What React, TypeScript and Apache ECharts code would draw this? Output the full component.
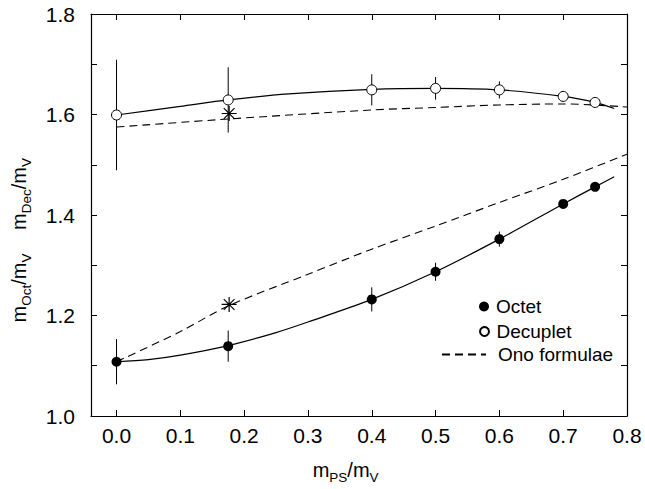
import React, { useEffect, useRef } from "react";
import * as echarts from "echarts";

// Lattice data (x = mPS/mV)
const pointX = [0, 0.175, 0.4, 0.5, 0.6, 0.7, 0.75];
const octetY = [1.108, 1.139, 1.232, 1.287, 1.352, 1.422, 1.456];
const octetErr = [0.045, 0.031, 0.024, 0.018, 0.015, 0.008, 0.006];
const decupletY = [1.599, 1.629, 1.649, 1.652, 1.649, 1.636, 1.624];
const decupletErr = [0.11, 0.065, 0.031, 0.0225, 0.017, 0.011, 0.008];

// Fit curves
const octFitX = [0, 0.05, 0.1, 0.175, 0.25, 0.3, 0.4, 0.5, 0.6, 0.7, 0.75, 0.78];
const octFitY = [1.108, 1.112, 1.121, 1.14, 1.166, 1.187, 1.232, 1.287, 1.352, 1.422, 1.456, 1.476];
const decFitX = [0, 0.1, 0.175, 0.27, 0.4, 0.5, 0.6, 0.7, 0.75, 0.78];
const decFitY = [1.599, 1.616, 1.629, 1.641, 1.65, 1.652, 1.649, 1.636, 1.624, 1.612];

// Ono formulae (dashed)
const onoOctX = [0, 0.1, 0.175, 0.3, 0.4, 0.5, 0.6, 0.7, 0.8];
const onoOctY = [1.108, 1.168, 1.219, 1.282, 1.332, 1.378, 1.425, 1.471, 1.521];
const onoDecX = [0, 0.175, 0.4, 0.5, 0.6, 0.7, 0.8];
const onoDecY = [1.575, 1.591, 1.609, 1.614, 1.619, 1.621, 1.615];

// Asterisks (physical point)
const starX = [0.1765, 0.1765];
const starY = [1.602, 1.222];

const xTicks = [0, 0.1, 0.2, 0.3, 0.4, 0.5, 0.6, 0.7, 0.8];

const FONT = "'Liberation Sans', Arial, Helvetica, sans-serif";
const zip = (xs: number[], ys: number[]) => xs.map((x, i) => [x, ys[i]]);

export default function App() {
  const ref = useRef<HTMLDivElement>(null);
  useEffect(() => {
    if (!ref.current) return;
    const chart = echarts.init(ref.current, null, { renderer: "svg" });
    const black = "#000";
    const axisCommonX = {
      type: "value",
      min: -0.04,
      max: 0.8,
      splitLine: { show: false },
      axisLine: { show: true, onZero: false, lineStyle: { color: black, width: 1.2 } },
      axisTick: { show: true, inside: true, length: 6, customValues: xTicks, lineStyle: { color: black } },
    };
    const axisCommonY = {
      type: "value",
      min: 1.0,
      max: 1.8,
      interval: 0.1,
      splitLine: { show: false },
      axisLine: { show: true, onZero: false, lineStyle: { color: black, width: 1.2 } },
      axisTick: { show: true, inside: true, length: 6, lineStyle: { color: black } },
    };
    const errRender = (params: any, api: any) => {
      const x = api.value(0);
      const p1 = api.coord([x, api.value(1)]);
      const p2 = api.coord([x, api.value(2)]);
      return {
        type: "line",
        shape: { x1: p1[0], y1: p1[1], x2: p2[0], y2: p2[1] },
        style: { stroke: black, lineWidth: 1 },
      };
    };
    const legendText = { fontSize: 19, color: black, fontFamily: FONT };
    const titleRich = {
      a: { fontSize: 20, fontFamily: FONT, lineHeight: 29, verticalAlign: "middle", fill: black },
      b: { fontSize: 13.5, fontFamily: FONT, lineHeight: 13, verticalAlign: "bottom", fill: black },
    };
    const option: any = {
      animation: false,
      backgroundColor: "#fff",
      grid: { left: 91, right: 18, top: 14, bottom: 73, containLabel: false },
      xAxis: [
        {
          ...axisCommonX,
          position: "bottom",
          axisLabel: {
            show: true,
            customValues: xTicks,
            formatter: (v: number) => v.toFixed(1),
            fontSize: 21,
            color: black,
            fontFamily: FONT,
            margin: 9,
          },
        },
        { ...axisCommonX, position: "top", axisLabel: { show: false } },
      ],
      yAxis: [
        {
          ...axisCommonY,
          position: "left",
          axisLabel: {
            show: true,
            formatter: (v: number) => {
              const k = Math.round(v * 10);
              return k % 2 === 0 ? (k / 10).toFixed(1) : "";
            },
            fontSize: 21,
            color: black,
            fontFamily: FONT,
            margin: 16,
          },
        },
        { ...axisCommonY, position: "right", axisLabel: { show: false } },
      ],
      legend: [
        {
          data: [{ name: "Octet", icon: "circle" }],
          left: 479,
          top: 297,
          padding: 0,
          itemWidth: 14,
          itemHeight: 10,
          selectedMode: false,
          textStyle: legendText,
        },
        {
          data: [{ name: "Decuplet", icon: "circle" }],
          left: 479,
          top: 322,
          padding: 0,
          itemWidth: 14,
          itemHeight: 9,
          selectedMode: false,
          textStyle: legendText,
        },
        {
          data: ["Ono formulae"],
          left: 441,
          top: 345,
          padding: 0,
          itemWidth: 44,
          itemHeight: 10,
          selectedMode: false,
          itemStyle: { opacity: 0, borderWidth: 0 },
          textStyle: { ...legendText, padding: [0, 0, 0, 7] },
        },
      ],
      graphic: [
        {
          type: "text",
          x: 345.6,
          y: 470,
          style: {
            text: "{a|m}{b|PS}{a|/m}{b|V}",
            align: "center",
            verticalAlign: "middle",
            fill: black,
            rich: titleRich,
          },
        },
        {
          type: "text",
          x: 18.5,
          y: 194,
          rotation: Math.PI / 2,
          style: {
            text: "{a|m}{b|Dec}{a|/m}{b|V}",
            align: "center",
            verticalAlign: "middle",
            fill: black,
            rich: titleRich,
          },
        },
        {
          type: "text",
          x: 18.5,
          y: 288,
          rotation: Math.PI / 2,
          style: {
            text: "{a|m}{b|Oct}{a|/m}{b|V}",
            align: "center",
            verticalAlign: "middle",
            fill: black,
            rich: titleRich,
          },
        },
      ],
      series: [
        {
          name: "Octet fit",
          type: "line",
          data: zip(octFitX, octFitY),
          smooth: 0.3,
          symbol: "none",
          lineStyle: { color: black, width: 1.2 },
          z: 2,
          silent: true,
        },
        {
          name: "Decuplet fit",
          type: "line",
          data: zip(decFitX, decFitY),
          smooth: 0.3,
          symbol: "none",
          lineStyle: { color: black, width: 1.2 },
          z: 2,
          silent: true,
        },
        {
          name: "Ono formulae",
          type: "line",
          data: zip(onoOctX, onoOctY),
          smooth: 0.3,
          symbol: "none",
          itemStyle: { color: black },
          lineStyle: { color: black, width: 1.1, type: [8, 5] },
          z: 2,
          silent: true,
        },
        {
          name: "Ono formulae",
          type: "line",
          data: zip(onoDecX, onoDecY),
          smooth: 0.3,
          symbol: "none",
          itemStyle: { color: black },
          lineStyle: { color: black, width: 1.1, type: [8, 5] },
          z: 2,
          silent: true,
        },
        {
          name: "Octet err",
          type: "custom",
          renderItem: errRender,
          encode: { x: 0, y: [1, 2] },
          data: pointX.map((x, i) => [x, octetY[i] - octetErr[i], octetY[i] + octetErr[i]]),
          z: 3,
          silent: true,
        },
        {
          name: "Decuplet err",
          type: "custom",
          renderItem: errRender,
          encode: { x: 0, y: [1, 2] },
          data: pointX.map((x, i) => [x, decupletY[i] - decupletErr[i], decupletY[i] + decupletErr[i]]),
          z: 3,
          silent: true,
        },
        {
          name: "Octet",
          type: "scatter",
          data: zip(pointX, octetY),
          symbol: "circle",
          symbolSize: 10,
          itemStyle: { color: black, opacity: 1 },
          z: 4,
          silent: true,
        },
        {
          name: "Decuplet",
          type: "scatter",
          data: zip(pointX, decupletY),
          symbol: "circle",
          symbolSize: 10,
          itemStyle: { color: "#fff", borderColor: black, borderWidth: 1, opacity: 1 },
          z: 4,
          silent: true,
        },
        {
          name: "Physical",
          type: "scatter",
          data: zip(starX, starY),
          symbol: "path://M7,0L7,14M0,7L14,7M2,2L12,12M2,12L12,2",
          symbolSize: 15,
          itemStyle: { color: "none", borderColor: black, borderWidth: 1.2, opacity: 1 },
          z: 5,
          silent: true,
        },
      ],
    };
    chart.setOption(option);
    return () => chart.dispose();
  }, []);
  return (
    <div
      ref={ref}
      style={{ position: "fixed", left: 0, top: 0, width: 645, height: 489, background: "#fff" }}
    />
  );
}
